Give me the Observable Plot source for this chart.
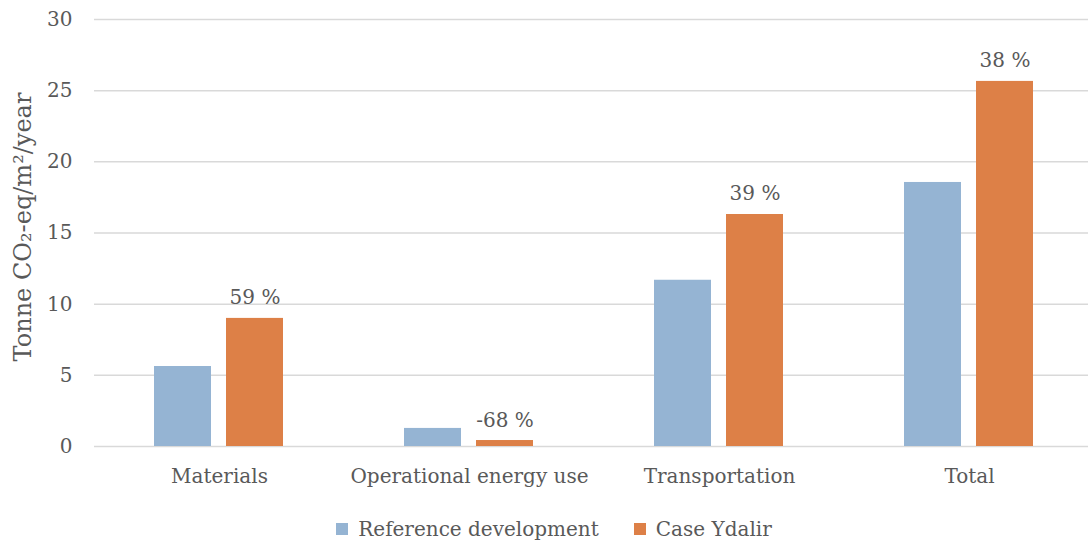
<!DOCTYPE html>
<html>
<head>
<meta charset="utf-8">
<script src="https://cdn.jsdelivr.net/npm/d3@7"></script>
<script src="https://cdn.jsdelivr.net/npm/@observablehq/plot@0.6"></script>
<style>
  body { margin: 0; background: #fff; overflow: hidden; }
  #chart { width: 1088px; height: 500px; overflow: hidden; }
  #chart svg { max-width: none !important; }
  #legend { display: flex; justify-content: center; margin-top: 12px; margin-left: 20px; width: 1088px; font-family: "DejaVu Serif"; font-size: 20px; color: #595959; }
</style>
</head>
<body>
<div id="chart"></div>
<div id="legend"></div>
<script>
const categories = ["Materials", "Operational energy use", "Transportation", "Total"];
const series = ["Reference development", "Case Ydalir"];
const refValues = [5.62, 1.27, 11.68, 18.55];
const caseValues = [9.0, 0.42, 16.3, 25.65];
const changeLabels = ["59 %", "-68 %", "39 %", "38 %"];
const yTicks = [0, 5, 10, 15, 20, 25, 30];
const yTitle = ["Tonne CO₂-eq/m²/year"];
const colors = ["#95B4D3", "#DD8047"];

const data = [];
categories.forEach((c, i) => {
  data.push({category: c, series: series[0], value: refValues[i]});
  data.push({category: c, series: series[1], value: caseValues[i], label: changeLabels[i]});
});
const caseData = data.filter(d => d.series === series[1]);

const chart = Plot.plot({
  width: 1094,
  height: 500,
  marginLeft: 94,
  marginRight: 0,
  marginTop: 19,
  marginBottom: 54,
  style: {fontFamily: "DejaVu Serif", fontSize: "20px", color: "#595959", background: "white"},
  fx: {domain: categories, padding: 0, label: null, axis: "bottom", tickSize: 0, tickPadding: 22, fontSize: 20},
  x: {domain: series, axis: null, paddingInner: 0.208, paddingOuter: 0.84},
  y: {domain: [0, 30], label: null},
  color: {domain: series, range: colors},
  marks: [
    Plot.gridY(yTicks, {stroke: "#d9d9d9", strokeOpacity: 1, strokeWidth: 1.5}),
    Plot.barY(data, {fx: "category", x: "series", y: "value", fill: "series"}),
    Plot.text(caseData, {fx: "category", x: "series", y: "value", text: "label", dy: -14, lineAnchor: "bottom", fontSize: 20}),
    Plot.axisY(yTicks, {tickSize: 0, tickPadding: 22, fontSize: 20, label: null}),
    Plot.text(yTitle, {frameAnchor: "left", facetAnchor: "left", textAnchor: "middle", rotate: -90, dx: -71, dy: -6, fontSize: 24, text: d => d})
  ]
});
chart.style.maxWidth = "none";
document.getElementById("chart").appendChild(chart);

const legend = Plot.legend({
  color: {domain: series, range: colors},
  legend: "swatches",
  swatchSize: 12,
  style: {fontFamily: "DejaVu Serif", fontSize: "20px", color: "#595959", columnGap: "15px"}
});
document.getElementById("legend").appendChild(legend);
</script>
</body>
</html>
